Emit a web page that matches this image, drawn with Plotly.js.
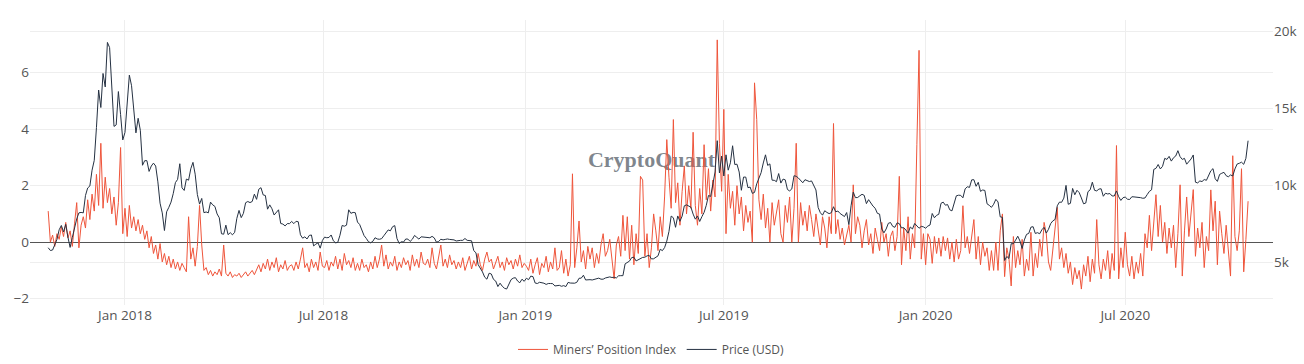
<!DOCTYPE html>
<html>
<head>
<meta charset="utf-8">
<script src="https://cdn.plot.ly/plotly-3.0.1.min.js"></script>
<style>html,body{margin:0;padding:0;background:#fff;}#chart{width:1304px;height:364px;}</style>
</head>
<body>
<div id="chart"></div>
<script>
// Series names
const seriesMPI = "Miners’ Position Index";
const seriesPrice = "Price (USD)";
const watermarkText = "CryptoQuant";

// Samples every 2 days; each year block has its own first date
const startDates = ["2017-10-23", "2018-01-01", "2019-01-02", "2020-01-01"];

// Miners' Position Index (left axis)
const mpi2017 = [1.1,0.0,0.25,-0.15,0.3,0.1,0.55,0.2,0.7,0.15,0.4,-0.15,0.65,1.4,-0.2,0.6,0.9,0.5,1.5,0.8,1.7,1.1,2.4,1.3,3.5,1.2,2.3,1.4,1.9,1.0,1.6,0.6,1.4,3.35,0.3];
const mpi2018 = [
 1.2,0.2,1.3,0.5,0.9,0.4,0.8,0.3,0.6,0.1,0.4,-0.2,0.2,-0.4,-0.1,-0.6,
 -0.05,-0.7,-0.4,-0.8,-0.5,-0.9,-0.6,-0.95,-0.7,-1.0,-0.75,-0.9,-1.05,0.9,
 -0.6,-0.2,-0.85,-0.15,1.3,-0.1,-1.0,-0.9,-1.15,-1.0,-1.2,-1.05,-1.15,-0.95,-1.2,
 -0.1,-1.1,-1.2,-1.05,-1.25,-1.15,-1.2,-1.1,-1.25,-1.15,-1.05,-1.2,-1.1,-1.0,-1.15,
 -1.0,-0.8,-1.05,-0.75,-0.95,-0.6,-1.0,-0.7,-0.9,-0.55,-1.05,-0.8,-0.95,-0.65,-1.0,-0.85,
 -0.8,-1.0,-0.7,-0.95,-0.6,-0.2,-0.9,-0.75,-1.05,-0.6,-0.9,-0.7,-1.0,-0.35,-0.85,
 -0.9,-0.65,-1.0,-0.7,-0.85,-0.5,-0.95,-0.6,-1.0,-0.4,-0.8,-0.65,-0.9,-0.55,-1.0,
 -0.75,-1.0,-0.6,-0.9,-0.8,-1.05,-0.7,-0.95,-0.5,-0.9,-0.6,-0.1,-0.85,-0.45,-0.95,-0.7,
 -0.85,-0.5,-1.0,-0.7,-0.9,-0.55,-0.8,-0.65,-1.0,-0.45,-0.85,-0.6,-0.9,-0.35,-0.75,
 -0.8,-0.6,-0.9,-0.2,-0.75,-0.95,-0.5,-0.1,-0.85,-0.6,-0.9,-0.45,-0.8,-0.65,-0.95,
 -0.7,-0.9,-0.55,-1.0,-0.75,-0.5,-0.95,-0.65,-0.85,-0.4,-0.8,-1.0,-0.6,-0.35,-0.7,
 -0.6,-0.95,-0.75,-0.5,-0.9,-0.7,-1.0,-0.55,-0.8,-0.65,-0.95,-0.6,-0.85,-0.45,-0.9,-0.75];
const mpi2019 = [
 -0.85,-1.0,-0.6,-1.1,-0.8,-0.55,-1.15,-0.75,-0.9,-0.5,-1.05,-0.7,-0.95,-0.2,-1.0,
 -0.9,-0.3,-1.1,-0.6,-1.2,-0.8,2.42,-0.9,-0.2,0.75,-0.7,-0.3,-0.95,-0.15,
 -0.6,-0.2,-0.9,-0.4,-0.75,-0.1,0.3,-0.5,-0.3,0.1,-0.6,-1.3,-0.1,0.2,-0.5,0.95,
 -0.3,0.9,-0.6,0.6,-0.8,0.3,-0.4,2.33,2.2,-0.5,0.3,-0.9,-0.2,1.0,0.4,
 -0.3,0.9,0.2,1.6,3.63,2.3,1.2,4.34,1.4,2.1,0.6,1.8,2.7,1.0,2.0,
 1.2,3.89,1.3,0.6,1.9,1.0,3.45,1.5,2.6,1.1,2.2,1.6,7.16,3.5,1.8,
 4.7,0.3,2.4,1.2,1.8,0.6,2.0,1.0,1.6,0.4,1.3,0.7,1.1,0.0,5.64,4.34,
 1.5,0.8,1.7,0.5,1.2,0.0,1.4,0.6,1.0,1.5,0.3,0.0,1.3,0.7,1.6,
 0.0,1.2,3.5,0.0,1.4,0.6,1.1,0.4,1.3,0.8,0.2,1.0,0.5,-0.1,0.9,
 0.5,-0.2,0.9,0.3,4.2,0.3,0.8,0.1,0.5,-0.1,0.3,0.6,0.0,2.03,0.3,0.9,
 0.6,-0.2,0.4,0.8,-0.1,0.3,-0.4,0.5,0.1,-0.3,0.7,0.0,0.3,-0.5,0.2,
 0.4,-0.3,0.2,2.33,-0.8,0.5,-0.3,0.9,-0.6,0.3,-0.2,3.45,6.79,-0.6,0.3];
const mpi2020 = [
 -0.8,0.3,0.1,-0.75,0.2,-0.4,0.15,-0.5,0.2,-0.3,0.15,-0.6,0.0,-0.7,0.1,-0.6,
 -0.3,1.29,-0.2,0.2,-0.4,0.3,0.8,-0.6,0.2,-0.8,0.0,-0.5,-0.2,-1.0,
 -0.3,-1.0,0.0,-1.0,0.4,1.0,-1.22,-0.2,-0.6,-1.55,0.2,-0.9,-0.3,-0.8,0.1,-1.2,
 -0.6,-1.0,0.35,-1.2,-0.4,-0.9,0.1,-0.5,0.7,0.3,-0.7,-1.0,-0.2,0.5,1.23,
 -0.6,-0.2,-0.9,-0.4,-1.1,-0.7,-1.5,-0.9,-1.3,-1.0,-1.66,-0.8,-1.2,-0.5,-1.4,
 -0.6,-1.1,0.8,-0.8,-1.3,-0.6,-1.0,-0.3,-1.3,-0.4,-1.0,3.42,-1.3,-0.2,-0.9,
 0.35,-0.8,-1.2,-0.5,-1.3,-0.7,-1.1,-0.4,-1.2,0.3,-0.2,0.95,-0.3,0.6,1.68,0.2,
 1.3,0.0,0.7,-0.4,0.5,-0.2,0.6,-0.9,0.3,2.03,-1.2,0.4,1.6,0.2,1.0,
 1.86,-0.5,0.5,-0.2,0.7,-0.9,0.2,-0.3,1.85,0.4,1.45,-0.8,1.1,0.3,-0.4,
 0.6,-0.4,-1.2,3.06,0.2,-0.3,0.4,2.6,-1.05,0.1,1.45];

// Price (USD) (right axis)
const price2017 = [5930,5750,5780,6150,6470,7100,7380,6960,7450,6620,5950,6600,7310,7800,8200,8230,8200,9330,9820,9950,10980,11620,13750,16200,15060,17280,16400,19300,18960,16620,13830,13930,16100,14600,12950];
const price2018 = [
 13440,15160,17170,16480,14970,13410,14360,13580,11300,11600,11600,10900,11250,11440,11250,10220,
 8830,8200,7050,8270,8560,8900,9450,10170,10380,11400,9830,9660,10400,10330,
 11070,11490,10720,9400,8770,9140,8210,8260,8200,8900,8720,8620,8130,7880,6840,
 6810,7400,6780,6910,6770,6930,7840,8360,7890,8170,8860,8940,8870,8940,9420,
 9080,9740,9840,9370,9330,8440,8720,8470,8060,8250,8400,7510,7470,7350,7500,7500,
 7640,7500,7650,7620,6770,6550,6640,6500,6730,6760,6050,6160,6250,5900,6400,
 6620,6580,6600,6760,6380,6250,6280,6740,7380,7330,7400,8400,8170,8230,8210,
 7600,7440,7030,6720,6540,6320,6250,6350,6580,6500,6480,6520,6710,6900,7090,7030,
 7300,7370,6530,6210,6320,6300,6500,6490,6340,6480,6730,6610,6490,6640,6630,
 6590,6590,6580,6670,6570,6290,6340,6480,6440,6470,6500,6470,6450,6440,6370,
 6410,6410,6410,6530,6410,6410,6380,5740,5600,4830,4590,4350,4010,3880,4270,
 4220,3870,3760,3400,3620,3420,3290,3240,3550,3850,3950,3980,3760,3650,3880,3740];
const price2019 = [
 3940,3850,4080,4050,3630,3600,3680,3670,3620,3540,3600,3600,3590,3440,3480,
 3480,3420,3460,3400,3670,3630,3610,3620,3680,3940,3950,4140,3830,3860,
 3850,3830,3860,3880,3950,3880,3880,3960,4000,4030,3990,4010,3960,4100,4110,4110,
 4880,4960,5060,5290,5310,5070,5160,5240,5300,5310,5400,5430,5200,5210,5320,
 5400,5830,5740,5940,6360,6990,7990,7880,7260,8000,7650,7990,8660,8720,8660,
 8570,8120,7790,8000,7640,7950,8230,8690,9330,9270,10210,10860,12900,10800,11900,
 10600,11980,10980,11460,12570,11350,11370,10860,9670,10530,10530,9840,9880,9470,9530,10090,
 10520,10820,11450,11980,11290,11390,10330,10320,10230,10760,10140,10400,10350,9720,9630,
 9760,10620,10580,10470,10340,10160,10360,10310,10240,10280,9990,9690,8550,8210,8050,
 8340,8230,8150,8210,8600,8270,8320,8160,8080,7960,8220,7430,8660,9550,9190,9200,
 9310,9410,9340,8800,9060,8810,8640,8500,8170,8120,7150,6900,7150,7520,7570,
 7320,7260,7550,7500,7220,7240,7080,6880,7280,7150,7510,7320,7200,7320,7290];
const price2020 = [
 7200,7340,7410,8160,7880,8040,8110,8820,8900,8700,8740,8400,8330,8900,9310,9350,
 9340,9180,9760,9900,9860,10350,10360,9930,10190,9600,9690,9660,8790,8690,
 8560,8760,9080,8910,7940,7910,5100,5360,5230,6190,6190,6420,6680,6370,5880,6440,
 6800,6860,7270,7300,6860,6910,6840,7100,7260,6880,7130,7500,7680,7770,8660,
 8900,8890,9160,9990,8760,8820,9790,9380,9670,9520,9170,8790,8840,9580,9700,
 10200,9670,9630,9750,9770,9280,9480,9430,9460,9300,9300,9630,9250,9010,9190,
 9230,9090,9070,9250,9240,9230,9240,9190,9150,9170,9390,9600,9700,11030,11100,11350,
 11060,11230,11750,11680,11880,11570,11790,11900,12250,11860,11680,11750,11370,11540,11710,
 11970,10200,10150,10280,10240,10370,10320,10680,10940,11080,10420,10250,10700,10780,10840,
 10620,10550,10670,10600,11060,11380,11430,11500,11360,11750,12900];

// Right-axis tick labels
const priceTickVals = [5000, 10000, 15000, 20000];
const priceTickText = ["5k", "10k", "15k", "20k"];

function datesFrom(start, n) {
  const t0 = Date.parse(start + "T00:00:00Z");
  const out = [];
  for (let i = 0; i < n; i++) out.push(new Date(t0 + i * 2 * 86400000).toISOString().slice(0, 10));
  return out;
}
function build(blocks) {
  let x = [], y = [];
  blocks.forEach((b, k) => { x = x.concat(datesFrom(startDates[k], b.length)); y = y.concat(b); });
  return {x, y};
}
const mpi = build([mpi2017, mpi2018, mpi2019, mpi2020]);
const price = build([price2017, price2018, price2019, price2020]);

const xRange = ["2017-10-06 10:00", "2020-11-12 17:00"];
const yRange = [-2.224, 7.864];
const y2Range = [2200, 20760];
const midDate = new Date((Date.parse(xRange[0].replace(" ", "T") + ":00Z") + Date.parse(xRange[1].replace(" ", "T") + ":00Z")) / 2).toISOString().slice(0, 19).replace("T", " ");
const midY = yRange[0] + (yRange[1] - yRange[0]) * 0.505;

const tickFont = {family: "Open Sans, verdana, arial, sans-serif", size: 13.5, color: "#555"};

const traces = [
  {x: [midDate], y: [midY], mode: "text", text: [watermarkText], textposition: "middle center",
   textfont: {family: "Liberation Serif, DejaVu Serif, serif", size: 22, color: "rgba(105,112,120,0.85)", weight: "bold"},
   showlegend: false, hoverinfo: "skip", xaxis: "x", yaxis: "y"},
  {x: mpi.x, y: mpi.y, name: seriesMPI, type: "scatter", mode: "lines",
   line: {color: "#EF553B", width: 1}, xaxis: "x", yaxis: "y"},
  {x: price.x, y: price.y, name: seriesPrice, type: "scatter", mode: "lines",
   line: {color: "#253142", width: 1}, xaxis: "x", yaxis: "y2"}
];

const layout = {
  width: 1304, height: 364,
  margin: {l: 30, r: 31, t: 20, b: 59, pad: 0, autoexpand: false},
  paper_bgcolor: "#ffffff", plot_bgcolor: "#ffffff",
  font: {family: "Open Sans, verdana, arial, sans-serif", size: 12, color: "#555"},
  showlegend: true,
  legend: {orientation: "h", x: 0.5, xanchor: "center", y: -0.105, yanchor: "top",
           font: {size: 12, color: "#555"}, bgcolor: "rgba(0,0,0,0)"},
  xaxis: {type: "date", range: xRange, tick0: "2018-01-01", dtick: "M6", tickformat: "%b %Y",
          showgrid: true, gridcolor: "#eeeeee", gridwidth: 1, zeroline: false, showline: false,
          ticks: "", tickfont: tickFont, automargin: false},
  yaxis: {range: yRange, tick0: 0, dtick: 2, showgrid: true, gridcolor: "#eeeeee", gridwidth: 1,
          zeroline: true, zerolinecolor: "#555", zerolinewidth: 1, showline: false, ticks: "",
          tickfont: tickFont, automargin: false},
  yaxis2: {range: y2Range, overlaying: "y", side: "right", tickvals: priceTickVals, ticktext: priceTickText,
           showgrid: true, gridcolor: "#eeeeee", gridwidth: 1, zeroline: false, showline: false, ticks: "",
           tickfont: tickFont, automargin: false},
  hovermode: false
};

Plotly.newPlot("chart", traces, layout, {staticPlot: true, displayModeBar: false});
</script>
</body>
</html>
